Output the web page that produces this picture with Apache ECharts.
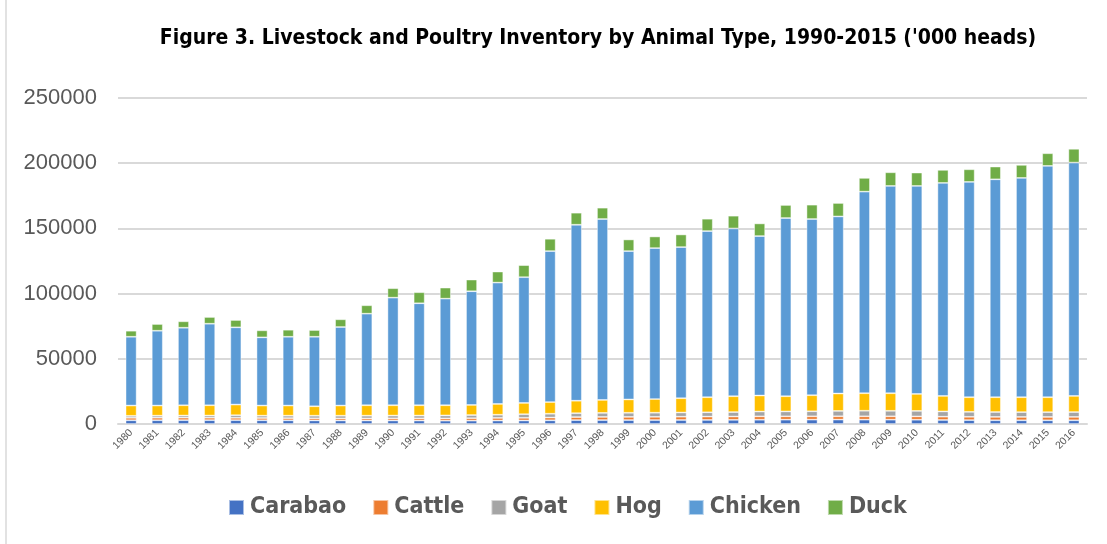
<!DOCTYPE html>
<html><head><meta charset="utf-8">
<script src="https://cdn.jsdelivr.net/npm/echarts@6/dist/echarts.min.js"></script>
<style>html,body{margin:0;padding:0;background:#fff}#c{width:1107px;height:544px}</style>
</head><body><div id="c"></div>
<script>
const years = ['1980','1981','1982','1983','1984','1985','1986','1987','1988','1989','1990','1991','1992','1993','1994','1995','1996','1997','1998','1999','2000','2001','2002','2003','2004','2005','2006','2007','2008','2009','2010','2011','2012','2013','2014','2015','2016'];
const carabao = [2870,2900,2950,2950,2950,2880,2830,2760,2710,2680,2710,2650,2560,2580,2640,2710,2840,2990,3010,3010,3020,3070,3120,3190,3270,3330,3350,3370,3340,3320,3270,3080,2980,2900,2870,2850,2880];
const cattle = [1890,1940,1930,1880,1800,1710,1660,1600,1600,1610,1630,1680,1740,1880,2020,2020,2130,2310,2400,2430,2480,2540,2550,2550,2590,2550,2550,2560,2570,2580,2570,2550,2530,2540,2540,2550,2550];
const goat = [1500,1550,1600,1650,2000,1800,1900,2000,2050,2100,2130,2150,2300,2400,2450,2800,2900,3000,3100,3150,3150,3200,3300,3400,3700,3750,3850,4100,4250,4200,4200,4000,3800,3750,3700,3680,3720];
const hog = [7890,7760,7900,7900,8150,7760,7760,7240,7790,7990,7910,7900,7780,7750,8270,8620,8970,9540,9950,10250,10500,10950,11560,12160,12280,11670,12320,13350,13450,13510,13030,11900,11220,11340,11420,11450,12380];
const chicken = [52750,57370,59440,62520,59230,52290,52750,53300,60210,70210,82510,78210,81740,87210,93050,96440,115740,134960,138720,113740,115730,115890,127420,128660,122270,136650,135110,135800,154570,158950,159490,163340,165110,167110,168180,177410,178950];
const duck = [4610,5150,4920,5150,5610,5380,5380,5150,5920,6460,7230,8460,8460,8920,8460,9230,9460,9230,8690,8920,8920,9690,9460,9770,9690,10000,11000,10300,10540,10460,10230,10000,9690,9770,10000,9690,10540];
const seriesNames = ['Carabao','Cattle','Goat','Hog','Chicken','Duck'];
const seriesData = [carabao, cattle, goat, hog, chicken, duck];
const colors = ['#4472C4','#ED7D31','#A5A5A5','#FFC000','#5B9BD5','#70AD47'];

const chart = echarts.init(document.getElementById('c'));
chart.setOption({
  animation: false,
  color: colors,
  title: {
    text: "Figure 3. Livestock and Poultry Inventory by Animal Type, 1990-2015 ('000 heads)",
    left: 593, top: 23, textAlign: 'center',
    textStyle: {fontFamily: "'DejaVu Sans Condensed',sans-serif", fontWeight: 'bold', fontSize: 21, color: '#000'}
  },
  legend: {
    data: seriesNames, bottom: 20, left: 223,
    itemWidth: 15, itemHeight: 15, itemGap: 26, icon: 'rect',
    textStyle: {fontFamily: "'DejaVu Sans Condensed',sans-serif", fontWeight: 'bold', fontSize: 23, color: '#595959', padding: [0,0,0,1]}
  },
  grid: {left: 118, right: 20, top: 98, bottom: 120, containLabel: false},
  xAxis: {
    type: 'category', data: years,
    axisLine: {lineStyle: {color: '#d9d9d9', width: 2}},
    axisTick: {show: false},
    axisLabel: {rotate: 45, fontSize: 10.5, color: '#595959', fontFamily: "'Liberation Sans',sans-serif", margin: 7, interval: 0}
  },
  yAxis: {
    type: 'value', min: 0, max: 250000, interval: 50000,
    axisLine: {show: false}, axisTick: {show: false},
    splitLine: {lineStyle: {color: '#d9d9d9', width: 2}},
    axisLabel: {fontSize: 22, color: '#595959', fontFamily: "'Liberation Sans',sans-serif", margin: 21, formatter: v => String(v)}
  },
  graphic: [{type: 'line', shape: {x1: 6, y1: 0, x2: 6, y2: 544}, style: {stroke: '#d9d9d9', lineWidth: 1.5}}],
  series: seriesNames.map((n, i) => ({
    name: n, type: 'bar', stack: 'total', data: seriesData[i], barWidth: 11,
    itemStyle: {borderColor: 'rgba(255,255,255,0.55)', borderWidth: 0.8}
  }))
});
</script></body></html>
